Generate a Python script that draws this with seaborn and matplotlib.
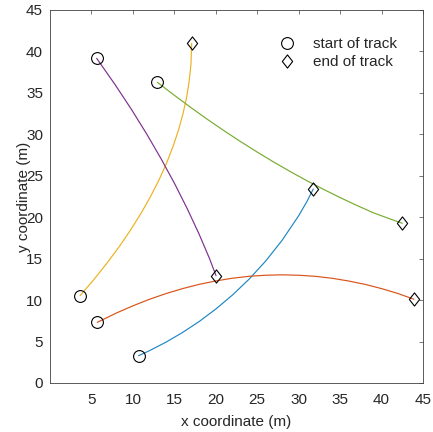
import matplotlib
matplotlib.use('Agg')
import matplotlib.pyplot as plt
import seaborn as sns
import pandas as pd
from matplotlib.lines import Line2D
from matplotlib.path import Path

# ---- data ----
blue_x = [10.68, 12.00, 14.00, 16.00, 18.00, 20.00, 22.00, 24.00, 26.00, 28.00, 30.00, 31.00, 31.76]
blue_y = [3.29, 3.90, 4.93, 6.10, 7.42, 8.92, 10.60, 12.51, 14.69, 17.21, 20.18, 21.90, 23.40]

orange_x = [5.71, 8.0, 10.0, 12.0, 14.0, 16.0, 18.0, 20.0, 22.0, 24.0, 26.0, 28.0,
            30.0, 32.0, 34.0, 36.0, 38.0, 40.0, 42.0, 43.91]
orange_y = [7.32, 8.44, 9.31, 10.10, 10.79, 11.39, 11.90, 12.31, 12.64, 12.87, 13.00, 13.05,
            13.00, 12.87, 12.64, 12.31, 11.90, 11.39, 10.79, 10.10]

yellow_x = [3.62, 5.31, 6.90, 8.39, 9.75, 11.00, 12.13, 13.15, 14.05, 14.83, 15.50,
            16.05, 16.49, 16.80, 17.01, 17.09]
yellow_y = [10.53, 12.50, 14.50, 16.50, 18.50, 20.50, 22.50, 24.50, 26.50, 28.50, 30.50,
            32.50, 34.50, 36.50, 38.50, 40.98]

purple_x = [5.63, 7.85, 9.83, 11.69, 13.43, 15.06, 16.57, 17.97, 19.25, 20.03]
purple_y = [39.17, 36.00, 33.00, 30.00, 27.00, 24.00, 21.00, 18.00, 15.00, 12.95]

green_x = [12.95, 15.0, 17.0, 19.0, 21.0, 23.0, 25.0, 27.0, 29.0, 31.0, 33.0, 35.0,
           37.0, 39.0, 41.0, 42.5]
green_y = [36.28, 34.71, 33.23, 31.80, 30.43, 29.12, 27.86, 26.65, 25.50, 24.40, 23.36,
           22.37, 21.43, 20.54, 19.80, 19.27]

track_names = ['track 1', 'track 2', 'track 3', 'track 4', 'track 5']
track_x = [blue_x, orange_x, yellow_x, purple_x, green_x]
track_y = [blue_y, orange_y, yellow_y, purple_y, green_y]
track_colors = ['#1f86c2', '#D95319', '#EDB120', '#7E2F8E', '#77AC30']

x_ticks = [5, 10, 15, 20, 25, 30, 35, 40, 45]
y_ticks = [0, 5, 10, 15, 20, 25, 30, 35, 40, 45]
legend_labels = ['start of track', 'end of track']

# ---- style ----
sns.set_style('white')
plt.rcParams['font.family'] = ['Liberation Sans', 'DejaVu Sans']
text_color = '#262626'

frames = []
for name, xs, ys in zip(track_names, track_x, track_y):
    frames.append(pd.DataFrame({'track': name, 'x': xs, 'y': ys}))
df = pd.concat(frames, ignore_index=True)

fig = plt.figure(figsize=(4.33, 4.32), dpi=100)
ax = fig.add_axes([50 / 433, 49 / 432, 373 / 433, 373 / 432])

sns.lineplot(data=df, x='x', y='y', hue='track', sort=False, estimator=None,
             palette=dict(zip(track_names, track_colors)), linewidth=0.85,
             legend=False, ax=ax, zorder=2)

diamond = Path([(0, 1), (0.78, 0), (0, -1), (-0.78, 0), (0, 1)],
               [Path.MOVETO, Path.LINETO, Path.LINETO, Path.LINETO, Path.CLOSEPOLY])

marker_kw = dict(markerfacecolor='none', markeredgecolor='black',
                 markeredgewidth=0.8, linestyle='none')
for xs, ys in zip(track_x, track_y):
    ax.plot(xs[0], ys[0], marker='o', markersize=8.5, zorder=3, **marker_kw)
    ax.plot(xs[-1], ys[-1], marker=diamond, markersize=9.5, zorder=3, **marker_kw)

ax.set_xlim(0, 45)
ax.set_ylim(0, 45)
ax.set_xticks(x_ticks)
ax.set_yticks(y_ticks)
ax.tick_params(direction='in', top=True, right=True, length=3, width=0.5,
               color='#404040', labelsize=11, labelcolor=text_color)
ax.tick_params(axis='x', pad=7.5)
ax.tick_params(axis='y', pad=5)
for sp in ax.spines.values():
    sp.set_color('#404040')
    sp.set_linewidth(0.6)

ax.set_xlabel('x coordinate (m)', fontsize=11, color=text_color)
ax.set_ylabel('y coordinate (m)', fontsize=11, color=text_color)
ax.xaxis.set_label_coords(0.5, -0.086)
ax.yaxis.set_label_coords(-0.05, 0.5)

handles = [
    Line2D([], [], marker='o', markersize=8.5, **marker_kw),
    Line2D([], [], marker=diamond, markersize=9.5, **marker_kw),
]
leg = ax.legend(handles, legend_labels, loc='upper left',
                bbox_to_anchor=((280.9 - 50) / 373, (383 - 37) / 373),
                frameon=False, fontsize=11, handlelength=0.8, handletextpad=1.3,
                borderpad=0, borderaxespad=0, labelspacing=0.27)
for t in leg.get_texts():
    t.set_color(text_color)

fig.savefig('out.png', dpi=100)
